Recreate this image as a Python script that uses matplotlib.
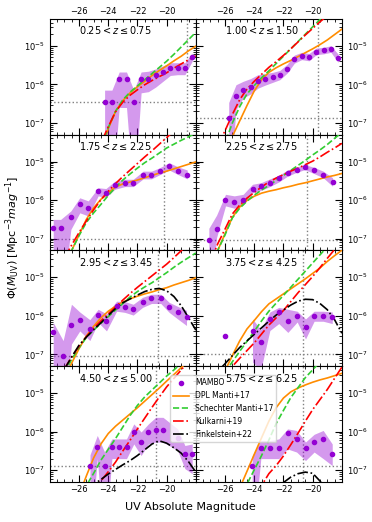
import numpy as np
import matplotlib
matplotlib.use('Agg')
import matplotlib.pyplot as plt
from matplotlib.ticker import MultipleLocator

# redshift bins, one panel each (row by row)
z_labels = [r'$0.25 < z \leq 0.75$', r'$1.00 < z \leq 1.50$',
            r'$1.75 < z \leq 2.25$', r'$2.25 < z \leq 2.75$',
            r'$2.95 < z \leq 3.45$', r'$3.75 < z \leq 4.25$',
            r'$4.50 < z \leq 5.00$', r'$5.75 < z \leq 6.25$']

# MAMBO points: magnitude bins and log10(phi), with log10 of band edges
mambo_M = [
    [-24.25, -23.75, -23.25, -22.75, -22.25, -21.75, -21.25, -20.75, -20.25, -19.75, -19.25, -18.75, -18.25],
    [-25.75, -25.25, -24.75, -24.25, -23.75, -23.25, -22.75, -22.25, -21.75, -21.25, -20.75, -20.25, -19.75, -19.25, -18.75, -18.25],
    [-27.77, -27.26, -26.56, -25.95, -25.37, -24.69, -24.16, -23.55, -22.86, -22.29, -21.61, -21.04, -20.47, -19.83, -19.21, -18.59],
    [-27.11, -26.58, -25.97, -25.37, -24.76, -24.12, -23.55, -22.93, -22.32, -21.72, -21.10, -20.53, -19.92, -19.28, -18.64],
    [-27.77, -27.09, -26.52, -25.95, -25.26, -24.69, -24.12, -23.43, -22.86, -22.29, -21.65, -21.04, -20.40, -19.83, -19.21, -18.64],
    [-25.97, -24.12, -23.55, -22.93, -22.32, -21.70, -21.06, -20.49, -19.90, -19.28, -18.66],
    [-25.25, -24.75, -24.25, -23.75, -23.25, -22.75, -22.25, -21.75, -21.25, -20.75, -20.25, -19.25, -18.75, -18.25],
    [-24.14, -23.55, -22.93, -22.32, -21.72, -21.10, -20.49, -19.90, -19.28, -18.66],
]
mambo_log = [
    [-6.45, -6.45, -5.86, -5.86, -6.45, -5.86, -5.86, -5.77, -5.69, -5.58, -5.58, -5.58, -5.29],
    [-6.87, -6.29, -6.15, -6.07, -5.92, -5.86, -5.81, -5.75, -5.59, -5.34, -5.26, -5.29, -5.15, -5.12, -5.08, -5.32],
    [-6.73, -6.73, -6.45, -6.11, -6.20, -5.77, -5.81, -5.62, -5.55, -5.55, -5.34, -5.34, -5.25, -5.12, -5.25, -5.34],
    [-7.04, -6.74, -6.01, -6.04, -6.01, -5.70, -5.64, -5.55, -5.44, -5.29, -5.21, -5.14, -5.22, -5.34, -5.52],
    [-6.43, -7.03, -6.24, -6.11, -6.33, -5.98, -6.14, -5.74, -5.76, -5.83, -5.65, -5.55, -5.55, -5.78, -5.91, -6.04],
    [-6.51, -6.40, -6.69, -6.08, -5.91, -6.14, -6.00, -6.28, -6.00, -6.00, -6.04],
    [-6.88, -6.39, -6.88, -6.39, -6.39, -6.39, -6.01, -6.26, -6.01, -5.96, -5.96, -6.17, -6.58, -6.58],
    [-6.88, -6.42, -6.42, -6.42, -6.03, -6.19, -6.42, -6.27, -6.19, -6.58],
]
band_up = [
    [-6.15, -6.15, -5.68, -5.68, -6.15, -5.68, -5.66, -5.60, -5.52, -5.44, -5.44, -5.44, -5.19],
    [-6.47, -6.01, -5.92, -5.85, -5.75, -5.72, -5.69, -5.64, -5.48, -5.24, -5.17, -5.20, -5.06, -5.04, -5.00, -5.22],
    [-6.50, -6.50, -6.28, -5.94, -6.02, -5.68, -5.70, -5.51, -5.46, -5.46, -5.25, -5.25, -5.16, -5.03, -5.14, -5.22],
    [-6.73, -6.39, -5.85, -5.89, -5.85, -5.59, -5.55, -5.45, -5.36, -5.22, -5.14, -5.08, -5.15, -5.25, -5.42],
    [-6.17, -6.64, -5.70, -5.90, -6.10, -5.83, -5.95, -5.62, -5.63, -5.70, -5.52, -5.44, -5.44, -5.65, -5.76, -5.86],
    [np.nan, -6.08, -6.36, -5.90, -5.78, -5.83, -5.88, -6.08, -5.88, -5.88, -5.90],
    [-6.60, -6.10, -6.53, -6.19, -6.19, -6.19, -5.80, -6.01, -5.80, -5.63, -5.63, -5.93, -6.36, -6.32],
    [-6.62, -6.23, -6.23, -6.19, -5.93, -5.97, -6.27, -6.07, -5.97, -6.32],
]
band_lo = [
    [-9.0, -9.0, -6.60, -6.60, -9.0, -6.22, -6.19, -6.07, -5.92, -5.77, -5.75, -5.75, -5.40],
    [-9.0, -6.65, -6.35, -6.25, -6.10, -6.02, -5.95, -5.88, -5.71, -5.45, -5.36, -5.39, -5.23, -5.21, -5.17, -5.43],
    [-9.0, -9.0, -6.76, -6.33, -6.41, -5.89, -5.93, -5.72, -5.65, -5.65, -5.45, -5.45, -5.34, -5.22, -5.34, -5.45],
    [-9.0, -6.97, -6.15, -6.21, -6.13, -5.81, -5.75, -5.65, -5.53, -5.38, -5.28, -5.21, -5.31, -5.42, -5.64],
    [-9.0, -9.0, -6.73, -6.39, -6.64, -6.17, -6.39, -5.88, -5.91, -5.98, -5.78, -5.68, -5.68, -5.91, -6.09, -6.25],
    [np.nan, -7.20, -7.40, -6.38, -6.20, -6.43, -6.16, -6.60, -6.14, -6.14, -6.20],
    [-9.0, -6.70, -9.0, -6.70, -6.70, -6.70, -6.32, -6.62, -6.32, -6.27, -6.27, -6.49, -6.96, -7.09],
    [-9.0, -6.70, -6.70, -6.70, -6.45, -6.53, -6.75, -6.53, -6.70, -6.88],
]

# model curves, log10(phi) read at these magnitudes
curve_M = [-27, -26.5, -26, -25.5, -25, -24.5, -24, -23.5, -23, -22.5,
           -22, -21.5, -21, -20.5, -20, -19.5, -19, -18.5, -18]
dpl_log = [
    [-10.8, -10.1, -9.5, -8.9, -8.3, -7.7, -7.15, -6.70, -6.42, -6.22, -6.06, -5.92, -5.77, -5.64, -5.52, -5.39, -5.27, -5.13, -5.01],
    [-8.6, -8.2, -7.78, -7.35, -6.95, -6.55, -6.17, -5.88, -5.69, -5.57, -5.47, -5.38, -5.28, -5.18, -5.08, -4.97, -4.85, -4.71, -4.57],
    [-7.8, -7.30, -6.90, -6.50, -6.20, -5.98, -5.81, -5.66, -5.58, -5.53, -5.48, -5.42, -5.36, -5.30, -5.25, -5.19, -5.13, -5.07, -5.01],
    [-7.8, -7.30, -6.87, -6.45, -6.18, -6.01, -5.90, -5.82, -5.77, -5.73, -5.68, -5.64, -5.59, -5.55, -5.50, -5.45, -5.40, -5.36, -5.31],
    [-7.65, -7.22, -6.85, -6.52, -6.27, -6.05, -5.88, -5.75, -5.64, -5.56, -5.49, -5.43, -5.38, -5.32, -5.27, -5.20, -5.14, -5.08, -5.01],
    [-8.3, -7.85, -7.42, -7.03, -6.65, -6.34, -6.12, -5.89, -5.69, -5.56, -5.43, -5.30, -5.17, -5.04, -4.90, -4.76, -4.59, -4.44, -4.30],
    [-8.8, -8.2, -7.65, -7.15, -6.68, -6.32, -6.05, -5.86, -5.70, -5.54, -5.38, -5.21, -5.04, -4.87, -4.69, -4.52, -4.34, -4.17, -4.00],
    [-9.4, -8.95, -8.45, -7.95, -7.47, -7.03, -6.59, -6.16, -5.73, -5.38, -5.13, -4.97, -4.87, -4.79, -4.72, -4.66, -4.61, -4.55, -4.49],
]
sch_log = [
    [-13.0, -11.7, -10.5, -9.4, -8.45, -7.65, -7.12, -6.70, -6.40, -6.20, -6.04, -5.88, -5.72, -5.56, -5.40, -5.22, -5.03, -4.84, -4.65],
    [-9.0, -8.2, -7.52, -7.00, -6.58, -6.25, -6.03, -5.83, -5.65, -5.46, -5.27, -5.08, -4.89, -4.70, -4.51, -4.32, -4.13, -3.94, -3.75],
    [-7.8, -7.30, -6.92, -6.58, -6.33, -6.11, -5.88, -5.67, -5.48, -5.32, -5.17, -5.03, -4.91, -4.78, -4.65, -4.55, -4.45, -4.36, -4.26],
    [-7.8, -7.30, -6.90, -6.46, -6.21, -6.03, -5.87, -5.74, -5.62, -5.49, -5.36, -5.23, -5.10, -4.97, -4.83, -4.70, -4.56, -4.40, -4.25],
    [-7.48, -7.12, -6.83, -6.56, -6.37, -6.19, -6.02, -5.85, -5.68, -5.51, -5.37, -5.25, -5.14, -5.01, -4.88, -4.74, -4.61, -4.49, -4.37],
    [-8.3, -7.85, -7.47, -7.19, -6.92, -6.66, -6.40, -6.13, -5.88, -5.67, -5.47, -5.26, -5.05, -4.84, -4.63, -4.42, -4.21, -4.00, -3.80],
    [-8.7, -8.2, -7.75, -7.40, -7.08, -6.74, -6.46, -6.18, -5.88, -5.58, -5.32, -5.10, -4.92, -4.74, -4.56, -4.40, -4.23, -4.06, -3.90],
    [-10.0, -9.35, -8.7, -8.2, -7.75, -7.36, -6.99, -6.62, -6.22, -5.79, -5.45, -5.12, -4.86, -4.60, -4.40, -4.19, -3.98, -3.77, -3.56],
]
kul_log = [
    [-10.5, -9.85, -9.2, -8.6, -8.05, -7.52, -7.10, -6.71, -6.46, -6.28, -6.14, -6.01, -5.90, -5.80, -5.70, -5.58, -5.47, -5.36, -5.26],
    [-8.0, -7.6, -7.2, -6.78, -6.40, -6.12, -5.92, -5.74, -5.56, -5.41, -5.25, -5.08, -4.90, -4.72, -4.55, -4.38, -4.22, -4.06, -3.90],
    [-7.5, -7.16, -6.84, -6.54, -6.25, -5.99, -5.77, -5.57, -5.39, -5.22, -5.05, -4.88, -4.72, -4.55, -4.38, -4.21, -4.04, -3.87, -3.70],
    [-7.6, -7.13, -6.75, -6.36, -6.13, -5.95, -5.80, -5.66, -5.53, -5.43, -5.34, -5.25, -5.17, -5.08, -4.99, -4.88, -4.76, -4.65, -4.53],
    [-7.37, -7.07, -6.79, -6.54, -6.32, -6.13, -5.95, -5.77, -5.59, -5.42, -5.26, -5.11, -4.96, -4.81, -4.66, -4.49, -4.31, -4.13, -3.96],
    [-7.95, -7.75, -7.53, -7.31, -7.10, -6.90, -6.70, -6.47, -6.24, -6.05, -5.86, -5.63, -5.40, -5.19, -4.98, -4.75, -4.51, -4.28, -4.05],
    [-8.6, -8.35, -8.1, -7.85, -7.55, -7.28, -7.04, -6.79, -6.50, -6.22, -5.93, -5.65, -5.37, -5.10, -4.84, -4.62, -4.40, -4.18, -3.96],
    [-9.4, -9.15, -8.9, -8.6, -8.3, -8.0, -7.7, -7.40, -7.09, -6.88, -6.63, -6.34, -6.04, -5.73, -5.43, -5.17, -4.91, -4.62, -4.33],
]
fink_log = [
    None, None, None, None,
    [-7.38, -7.06, -6.76, -6.55, -6.36, -6.18, -5.99, -5.81, -5.66, -5.56, -5.46, -5.37, -5.31, -5.29, -5.35, -5.50, -5.74, -6.05, -6.37],
    [-7.65, -7.44, -7.24, -7.03, -6.82, -6.65, -6.48, -6.31, -6.14, -5.98, -5.85, -5.72, -5.62, -5.57, -5.58, -5.68, -5.84, -6.10, -6.45],
    [-8.2, -7.95, -7.72, -7.52, -7.37, -7.24, -7.10, -6.98, -6.86, -6.75, -6.62, -6.47, -6.32, -6.24, -6.30, -6.42, -6.56, -6.78, -7.05],
    [-11.0, -10.4, -9.8, -9.3, -8.8, -8.45, -8.1, -7.85, -7.6, -7.45, -7.32, -7.18, -7.09, -7.05, -7.08, -7.28, -7.55, -7.85, -8.2],
]

# grey dotted reference lines
vline_M = [-18.6, -19.62, -20.19, -20.42, -20.58, -20.69, -20.76, -20.69]
hline_log = [-6.45, -6.87, -7.01, -7.04, -7.03, -6.99, -6.88, -6.89]

fig, axes = plt.subplots(4, 2, figsize=(3.72, 5.22), dpi=100, sharex=True, sharey=True)
plt.subplots_adjust(left=0.134, right=0.919, top=0.964, bottom=0.077, hspace=0, wspace=0)

purple = 'darkviolet'
for i, ax in enumerate(axes.flat):
    ax.set_yscale('log')
    ax.axhline(10**hline_log[i], color='grey', ls=':', lw=1, zorder=1)
    ax.axvline(vline_M[i], color='grey', ls=':', lw=1, zorder=1)

    M = np.array(mambo_M[i])
    ax.fill_between(M, 10**np.array(band_lo[i]), 10**np.array(band_up[i]),
                    color=purple, alpha=0.4, lw=0, zorder=2)
    ax.plot(M, 10**np.array(mambo_log[i]), 'o', color=purple, ms=3,
            zorder=6, label='MAMBO')

    ax.plot(curve_M, 10**np.array(dpl_log[i]), color='darkorange', lw=1.2,
            zorder=3, label='DPL Manti+17')
    ax.plot(curve_M, 10**np.array(sch_log[i]), color='limegreen', ls='--', lw=1.2,
            zorder=3, label='Schechter Manti+17')
    ax.plot(curve_M, 10**np.array(kul_log[i]), color='red', ls='-.', lw=1.2,
            zorder=4, label='Kulkarni+19')
    if fink_log[i] is not None:
        ax.plot(curve_M, 10**np.array(fink_log[i]), color='k', ls='-.', lw=1.2,
                zorder=4, label='Finkelstein+22')

    ax.text(0.45, 0.9, z_labels[i], transform=ax.transAxes, ha='center',
            va='center', fontsize=7, zorder=7)

    ax.set_xlim(-28, -18)
    ax.set_ylim(5e-8, 5e-5)
    ax.set_xticks([-26, -24, -22, -20])
    ax.xaxis.set_minor_locator(MultipleLocator(0.5))
    ax.tick_params(which='both', direction='in', top=True, right=True, labelsize=6)
    ax.tick_params(which='major', length=5)
    ax.tick_params(which='minor', length=2.5)
    ax.tick_params(axis='x', which='major', pad=2)

    row, col = divmod(i, 2)
    ax.tick_params(labeltop=(row == 0), labelbottom=(row == 3),
                   labelleft=(col == 0), labelright=(col == 1))

# legend hangs over both bottom panels, panel title stays readable on top
leg = axes[3, 1].legend(loc='upper left', bbox_to_anchor=(-0.175, 0.92), fontsize=5.5,
                        borderaxespad=0, handlelength=2)
leg.set_zorder(5)

fig.text(0.513, 0.029, 'UV Absolute Magnitude', ha='center', va='center', fontsize=8)
fig.text(0.035, 0.545, r'$\Phi(M_{\rm UV})$ [Mpc$^{-3}mag^{-1}$]', ha='center',
         va='center', rotation=90, fontsize=8)

plt.savefig('out.png', dpi=100)
